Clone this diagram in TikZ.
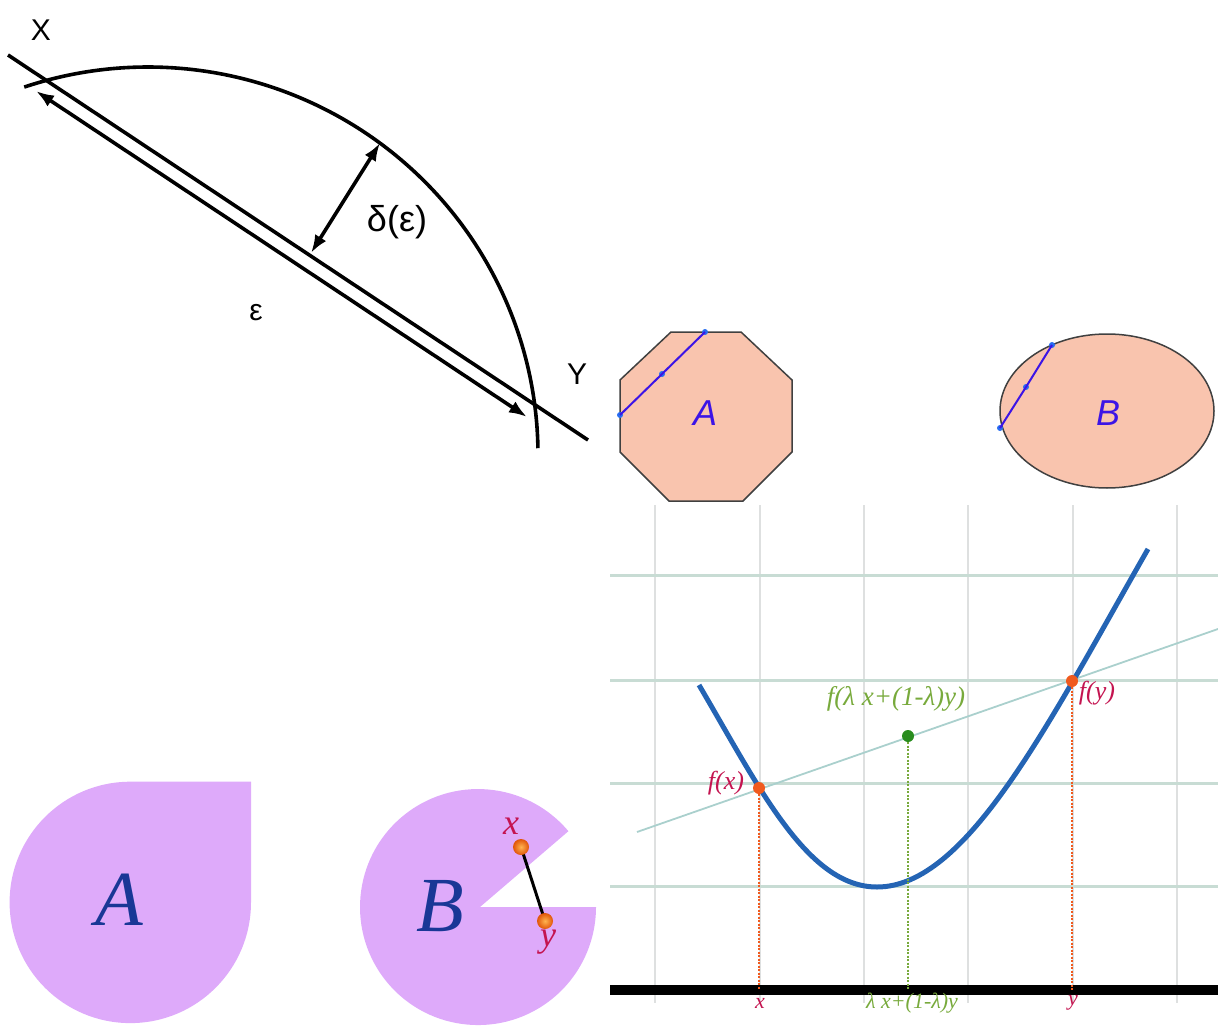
\documentclass[tikz,border=0pt]{standalone}
\usepackage{fontspec}
\setmainfont{Liberation Serif}
\newfontfamily\sansf{Liberation Sans}
\usetikzlibrary{arrows.meta}
\definecolor{peach}{RGB}{249,196,174}
\definecolor{lavender}{RGB}{222,170,250}
\definecolor{curveblue}{RGB}{36,100,180}
\definecolor{chordc}{RGB}{170,208,205}
\definecolor{gridh}{RGB}{200,220,212}
\definecolor{gridv}{RGB}{222,224,224}
\definecolor{ptorange}{RGB}{240,90,30}
\definecolor{balllight}{RGB}{255,180,80}
\definecolor{balldark}{RGB}{225,85,10}
\definecolor{ptgreen}{RGB}{40,140,30}
\definecolor{lblgreen}{RGB}{120,170,60}
\definecolor{crimson}{RGB}{196,20,80}
\definecolor{violet}{RGB}{60,20,230}
\definecolor{dotblue}{RGB}{40,110,240}
\definecolor{darkblue}{RGB}{25,55,150}
\begin{document}
\begin{tikzpicture}[x=1pt,y=-1pt,
  thickline/.style={line width=3.6pt, black},
  dblarrow/.style={line width=3.6pt, {Latex[length=18pt,width=13pt]}-{Latex[length=18pt,width=13pt]}},
  sanslbl/.style={font=\sansf\fontsize{30}{36}\selectfont, inner sep=0pt},
  setlbl/.style={font=\sansf\itshape\fontsize{36}{40}\selectfont, text=violet, inner sep=0pt},
  bigset/.style={font=\itshape\fontsize{78}{80}\selectfont, text=darkblue, inner sep=0pt},
  ptlbl/.style={font=\itshape\fontsize{36}{40}\selectfont, text=crimson, inner sep=0pt},
  flbl/.style={font=\itshape\fontsize{26}{30}\selectfont, text=crimson, inner sep=0pt},
  glbl/.style={font=\itshape\fontsize{27}{30}\selectfont, text=lblgreen, inner sep=0pt},
  chordline/.style={line width=2pt, violet},
  bluedot/.style={circle, fill=dotblue, inner sep=0pt, minimum size=6pt},
  ball/.style={circle, shading=radial, inner color=balllight, outer color=balldark, inner sep=0pt, minimum size=16pt},
  vdots/.style={line width=2pt, dash pattern=on 2pt off 1.5pt}
]
\useasboundingbox (0,0) rectangle (1218,1027);

% ---------- top-left: uniformly convex sketch ----------
\coordinate (L1) at (8,55);
\coordinate (L2) at (588,440);
\draw[thickline] (L1) -- (L2);
\coordinate (E1) at (36,91);
\coordinate (E2) at (527,417);
\draw[dblarrow] (E1) -- (E2);
\draw[thickline] (148,455) ++(-108.5:390 and 388) arc[start angle=-108.5,end angle=-1,x radius=390,y radius=388];
\coordinate (D1) at (380,143);
\coordinate (D2) at (311,253);
\draw[dblarrow] (D1) -- (D2);
\node[sanslbl] (lX) at (41,30) {X};
\node[sanslbl] (lY) at (577,374) {Y};
\node[sanslbl] (leps) at (256,313) {ε};
\node[sanslbl, font=\sansf\fontsize{36}{40}\selectfont] (ldelta) at (397,222) {δ(ε)};

% ---------- top-right: octagon A and ellipse B ----------
\filldraw[fill=peach, draw=black!75, line width=1.5pt]
  (671,332) -- (741,332) -- (792,380) -- (792,452) -- (743,501) -- (669,501) -- (620,452) -- (620,380) -- cycle;
\node[bluedot] (a1) at (620,415) {};
\node[bluedot] (a2) at (662,374) {};
\node[bluedot] (a3) at (705,332) {};
\draw[chordline] (a1.center) -- (a2.center) -- (a3.center);
\node[setlbl] (lA) at (705,413) {A};

\filldraw[fill=peach, draw=black!75, line width=1.5pt] (1107,411) ellipse[x radius=107, y radius=77];
\node[bluedot] (b1) at (1000,428) {};
\node[bluedot] (b2) at (1026,387) {};
\node[bluedot] (b3) at (1052,345) {};
\draw[chordline] (b1.center) -- (b2.center) -- (b3.center);
\node[setlbl] (lB) at (1108,413) {B};

% ---------- bottom-right: convex function graph ----------
\foreach \gx in {655,760,864,968,1073,1177} \draw[gridv, line width=2pt] (\gx,505) -- (\gx,1003);
\foreach \gy in {575,680,783,886} \draw[gridh, line width=3pt] (610,\gy) -- (1218,\gy);
\coordinate (C1) at (637,832);
\coordinate (C2) at (1218,629);
\draw[chordc, line width=1.8pt] (C1) -- (C2);
\draw[curveblue, line width=5pt] (699,685) .. controls (759,787) and (807,887) .. (877,887)
  .. controls (967,887) and (1048,724) .. (1148,549);
\coordinate (ax1) at (610,990);
\coordinate (ax2) at (1218,990);
\draw[black, line width=10pt] (ax1) -- (ax2);
\node[circle, fill=ptorange, inner sep=0pt, minimum size=12pt] (fx) at (759,788) {};
\node[circle, fill=ptorange, inner sep=0pt, minimum size=12pt] (fy) at (1072,681) {};
\node[circle, fill=ptgreen, inner sep=0pt, minimum size=12pt] (fm) at (908,736) {};
\draw[vdots, ptorange] (fx.south) -- (fx |- ax1);
\draw[vdots, ptorange] (fy.south) -- (fy |- ax1);
\draw[vdots, lblgreen] (fm.south) -- (fm |- ax1);
\node[flbl] (lfx) at (726,783) {f(x)};
\node[flbl] (lfy) at (1097,693) {f(y)};
\node[glbl] (lfm) at (896,699) {f(λ x+(1-λ)y)};
\node[flbl, font=\itshape\fontsize{22}{24}\selectfont] (lx) at (760,1003) {x};
\node[flbl, font=\itshape\fontsize{22}{24}\selectfont] (ly) at (1073,1003) {y};
\node[glbl, font=\itshape\fontsize{22}{24}\selectfont] (lm) at (912,1003) {λ x+(1-λ)y};

% ---------- bottom-left: convex A, non-convex B ----------
\fill[lavender] (130.3,781.7) arc[start angle=-90,end angle=-360,radius=120.7] -- (251,781.7) -- cycle;
\node[bigset] (bA) at (119,900) {A};
\fill[lavender] (480,907) -- (568.4,831.2) arc[start angle=-40,end angle=-360,radius=118] -- cycle;
\node[bigset] (bB) at (440,906) {B};
\draw[black, line width=3pt] (521,847) -- (545,921);
\node[ball] (px) at (521,847) {};
\node[ball] (py) at (545,921) {};
\node[ptlbl] (lpx) at (511,826) {x};
\node[ptlbl] (lpy) at (548,942) {y};
\end{tikzpicture}
\end{document}
